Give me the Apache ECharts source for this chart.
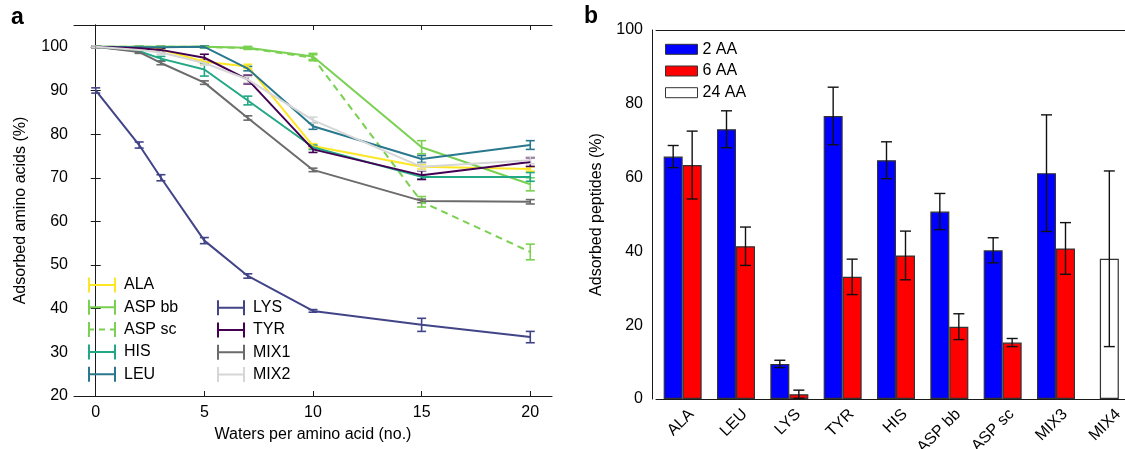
<!DOCTYPE html>
<html><head><meta charset="utf-8">
<script src="https://cdn.jsdelivr.net/npm/echarts@6/dist/echarts.min.js"></script>
<style>html,body{margin:0;padding:0;background:#fff}#c{width:1125px;height:449px}</style>
</head><body><div id="c"></div>
<script>
// ---------- Panel a data ----------
const waters = [0, 2, 3, 5, 7, 10, 15, 20];
const ALA     = [100, 99.6, 99.4, 96.6, 95.5, 77.3, 72.5, 72.0];
const ALA_err = [0.2, 0.2, 0.3, 0.5, 0.5, 0.5, 0.5, 0.5];
const ASPbb     = [100, 100, 100, 100, 99.8, 97.8, 77.0, 68.5];
const ASPbb_err = [0.1, 0.1, 0.1, 0.2, 0.3, 0.7, 1.5, 1.5];
const ASPsc     = [100, 100, 100, 100, 99.7, 97.5, 64.5, 53.0];
const ASPsc_err = [0.1, 0.1, 0.1, 0.2, 0.3, 0.7, 1.2, 1.8];
const HIS     = [100, 99.0, 97.3, 94.8, 87.7, 77.0, 70.2, 70.2];
const HIS_err = [0.2, 0.3, 0.5, 1.5, 1.0, 0.5, 0.5, 1.0];
const LEU     = [100, 99.9, 99.9, 100, 95.0, 81.8, 74.3, 77.5];
const LEU_err = [0.1, 0.2, 0.2, 0.2, 0.5, 0.7, 0.8, 1.0];
const LYS     = [90.0, 77.5, 70.0, 55.6, 47.5, 39.5, 36.3, 33.5];
const LYS_err = [0.6, 0.7, 0.7, 0.7, 0.5, 0.3, 1.5, 1.3];
const TYR     = [100, 99.7, 99.3, 97.5, 92.5, 76.5, 70.6, 73.6];
const TYR_err = [0.2, 0.3, 0.4, 0.8, 1.0, 0.7, 1.0, 1.0];
const MIX1     = [100, 98.8, 96.3, 91.8, 83.7, 71.8, 64.7, 64.5];
const MIX1_err = [0.2, 0.3, 0.4, 0.4, 0.5, 0.4, 0.4, 0.5];
const MIX2     = [100, 99.3, 98.7, 96.3, 92.5, 83.2, 72.5, 74.0];
const MIX2_err = [0.2, 0.3, 0.4, 0.5, 0.7, 0.7, 0.8, 0.8];
const xTicksA = [0, 5, 10, 15, 20];
const yTicksA = [20, 30, 40, 50, 60, 70, 80, 90, 100];

// ---------- Panel b data ----------
const peptideCats = ['ALA', 'LEU', 'LYS', 'TYR', 'HIS', 'ASP bb', 'ASP sc', 'MIX3', 'MIX4'];
const aa2     = [65.7, 73.1, 9.5, 76.7, 64.7, 50.8, 40.3, 61.2, '-'];
const aa2_err = [3.0, 5.0, 1.0, 7.8, 5.0, 4.9, 3.4, 15.8, null];
const aa6     = [63.4, 41.4, 1.3, 33.1, 38.9, 19.6, 15.3, 40.8, '-'];
const aa6_err = [9.2, 5.2, 1.1, 4.8, 6.6, 3.5, 1.1, 7.0, null];
const aa24     = ['-', '-', '-', '-', '-', '-', '-', '-', 38.0];
const aa24_err = [null, null, null, null, null, null, null, null, 23.8];

// ---------- styling ----------
const FONT = '"Liberation Sans", Arial, Helvetica, sans-serif';
const AXC = '#1a1a1a';
const lineSeriesDefs = [
  {name: 'ALA',    v: ALA,   e: ALA_err,   color: '#FDE725', dashed: false},
  {name: 'ASP bb', v: ASPbb, e: ASPbb_err, color: '#7AD151', dashed: false},
  {name: 'ASP sc', v: ASPsc, e: ASPsc_err, color: '#7AD151', dashed: true},
  {name: 'HIS',    v: HIS,   e: HIS_err,   color: '#22A884', dashed: false},
  {name: 'LEU',    v: LEU,   e: LEU_err,   color: '#2A788E', dashed: false},
  {name: 'LYS',    v: LYS,   e: LYS_err,   color: '#414487', dashed: false},
  {name: 'TYR',    v: TYR,   e: TYR_err,   color: '#440154', dashed: false},
  {name: 'MIX1',   v: MIX1,  e: MIX1_err,  color: '#6B6B6B', dashed: false},
  {name: 'MIX2',   v: MIX2,  e: MIX2_err,  color: '#D6D6D6', dashed: false}
];
const ICON_SOLID = 'path://M0,0h2v15h-2z M26,0h2v15h-2z M0,6.5h28v2h-28z';
const ICON_DASH  = 'path://M0,0h2v15h-2z M26,0h2v15h-2z M0,6.5h6v2h-6z M11,6.5h6v2h-6z M22,6.5h6v2h-6z';

function errRenderer(color, cap, width, offset) {
  return function (params, api) {
    const x = api.value(0), lo = api.value(1), hi = api.value(2);
    const p1 = api.coord([x, hi]), p2 = api.coord([x, lo]);
    const cx = p1[0] + offset;
    const st = {stroke: color, lineWidth: width, fill: null};
    return {type: 'group', children: [
      {type: 'line', shape: {x1: cx, y1: p1[1], x2: cx, y2: p2[1]}, style: st},
      {type: 'line', shape: {x1: cx - cap, y1: p1[1], x2: cx + cap, y2: p1[1]}, style: st},
      {type: 'line', shape: {x1: cx - cap, y1: p2[1], x2: cx + cap, y2: p2[1]}, style: st}
    ]};
  };
}

const series = [];
lineSeriesDefs.forEach(function (d) {
  series.push({
    type: 'line', name: d.name, xAxisIndex: 0, yAxisIndex: 0,
    data: waters.map(function (w, i) { return [w, d.v[i]]; }),
    showSymbol: false, symbol: 'none',
    lineStyle: {color: d.color, width: 2, type: d.dashed ? [7, 5] : 'solid'},
    itemStyle: {color: d.color},
    animation: false
  });
  series.push({
    type: 'custom', name: d.name + ' err', xAxisIndex: 0, yAxisIndex: 0,
    data: waters.map(function (w, i) { return [w, d.v[i] - d.e[i], d.v[i] + d.e[i]]; }),
    renderItem: errRenderer(d.color, 4.5, 1.6, 0),
    animation: false, silent: true
  });
});

// Bars
const barBorder = {borderColor: '#333', borderWidth: 1.2};
series.push({type: 'bar', name: '2 AA', xAxisIndex: 2, yAxisIndex: 2, data: aa2, barWidth: 19, barGap: '0%',
  itemStyle: Object.assign({color: '#0000FF'}, barBorder), animation: false});
series.push({type: 'bar', name: '6 AA', xAxisIndex: 2, yAxisIndex: 2, data: aa6, barWidth: 19, barGap: '0%',
  itemStyle: Object.assign({color: '#FF0000'}, barBorder), animation: false});
series.push({type: 'bar', name: '24 AA', xAxisIndex: 4, yAxisIndex: 2, data: aa24, barWidth: 19,
  itemStyle: Object.assign({color: '#FFFFFF'}, barBorder), animation: false});

function barErrData(vals, errs) {
  const out = [];
  vals.forEach(function (v, i) {
    if (typeof v === 'number' && errs[i] != null) out.push([i, Math.max(0, v - errs[i]), v + errs[i]]);
  });
  return out;
}
series.push({type: 'custom', name: '2 AA err', xAxisIndex: 2, yAxisIndex: 2, data: barErrData(aa2, aa2_err),
  renderItem: errRenderer('#111', 5.5, 1.4, -9.5), z: 5, animation: false, silent: true});
series.push({type: 'custom', name: '6 AA err', xAxisIndex: 2, yAxisIndex: 2, data: barErrData(aa6, aa6_err),
  renderItem: errRenderer('#111', 5.5, 1.4, 9.5), z: 5, animation: false, silent: true});
series.push({type: 'custom', name: '24 AA err', xAxisIndex: 2, yAxisIndex: 2, data: barErrData(aa24, aa24_err),
  renderItem: errRenderer('#111', 5.5, 1.4, 0), z: 5, animation: false, silent: true});

const txt = {fontFamily: FONT, fontSize: 16, color: '#000'};
const axLine = {show: true, lineStyle: {color: AXC, width: 1}};

const option = {
  backgroundColor: '#fff',
  animation: false,
  textStyle: {fontFamily: FONT},
  title: [
    {text: 'a', left: 11, top: 6, padding: 0, textStyle: {fontFamily: FONT, fontSize: 23, fontWeight: 'bold', color: '#000'}},
    {text: 'b', left: 584, top: 5, padding: 0, textStyle: {fontFamily: FONT, fontSize: 23, fontWeight: 'bold', color: '#000'}}
  ],
  grid: [
    {left: 74, top: 25, width: 478, height: 371, outerBoundsMode: 'none', containLabel: false},
    {left: 656, top: 30, width: 480, height: 369, outerBoundsMode: 'none', containLabel: false}
  ],
  legend: [
    {orient: 'vertical', left: 88, top: 277, padding: 0, itemWidth: 28, itemHeight: 15, itemGap: 6.3,
      textStyle: Object.assign({}, txt, {padding: [0, 0, 0, 3]}), selectedMode: false,
      data: lineSeriesDefs.slice(0, 5).map(function (d) {
        return {name: d.name, icon: d.dashed ? ICON_DASH : ICON_SOLID, itemStyle: {color: d.color, borderWidth: 0}};
      })},
    {orient: 'vertical', left: 217, top: 299.7, padding: 0, itemWidth: 28, itemHeight: 15, itemGap: 6.3,
      textStyle: Object.assign({}, txt, {padding: [0, 0, 0, 3]}), selectedMode: false,
      data: lineSeriesDefs.slice(5).map(function (d) {
        return {name: d.name, icon: ICON_SOLID, itemStyle: {color: d.color, borderWidth: 0}};
      })},
    {orient: 'vertical', left: 665, top: 41.3, padding: 0, itemWidth: 32, itemHeight: 10, itemGap: 5.7,
      textStyle: txt, selectedMode: false, icon: 'rect',
      data: [
        {name: '2 AA', itemStyle: {color: '#0000FF', borderColor: '#333', borderWidth: 1}},
        {name: '6 AA', itemStyle: {color: '#FF0000', borderColor: '#333', borderWidth: 1}},
        {name: '24 AA', itemStyle: {color: '#FFFFFF', borderColor: '#333', borderWidth: 1}}
      ]}
  ],
  xAxis: [
    {type: 'value', gridIndex: 0, min: -1, max: 21, position: 'bottom',
      axisLine: axLine, splitLine: {show: false},
      axisTick: {inside: true, length: 5, lineStyle: {color: AXC}, customValues: xTicksA},
      axisLabel: Object.assign({}, txt, {margin: 9, customValues: xTicksA}),
      name: 'Waters per amino acid (no.)', nameLocation: 'middle', nameGap: 31, nameTextStyle: txt},
    {type: 'value', gridIndex: 0, min: -1, max: 21, position: 'top',
      axisLine: axLine, splitLine: {show: false},
      axisTick: {inside: true, length: 5, lineStyle: {color: AXC}, customValues: xTicksA},
      axisLabel: {show: false}},
    {type: 'category', gridIndex: 1, data: peptideCats, position: 'bottom',
      axisLine: axLine, splitLine: {show: false},
      axisTick: {inside: true, length: 5, alignWithLabel: true, lineStyle: {color: AXC}},
      axisLabel: Object.assign({}, txt, {rotate: 45, margin: 4, verticalAlign: 'top', lineHeight: 25, interval: 0})},
    {type: 'category', gridIndex: 1, data: peptideCats, position: 'top',
      axisLine: axLine, splitLine: {show: false},
      axisTick: {inside: true, length: 5, alignWithLabel: true, lineStyle: {color: AXC}},
      axisLabel: {show: false}},
    {type: 'category', gridIndex: 1, data: peptideCats, position: 'bottom', show: false}
  ],
  yAxis: [
    {type: 'value', gridIndex: 0, min: 20, max: 105, position: 'left',
      axisLine: axLine, splitLine: {show: false},
      axisTick: {inside: true, length: 5, lineStyle: {color: AXC}, customValues: yTicksA},
      axisLabel: Object.assign({}, txt, {margin: 6, customValues: yTicksA}),
      name: 'Adsorbed amino acids (%)', nameLocation: 'middle', nameGap: 45, nameTextStyle: txt},
    {type: 'value', gridIndex: 0, min: 20, max: 105, position: 'right',
      axisLine: axLine, splitLine: {show: false},
      axisTick: {inside: true, length: 5, lineStyle: {color: AXC}, customValues: yTicksA},
      axisLabel: {show: false}},
    {type: 'value', gridIndex: 1, min: 0, max: 100, interval: 20, position: 'left', offset: 4,
      axisLine: axLine, splitLine: {show: false},
      axisTick: {inside: true, length: 5, lineStyle: {color: AXC}},
      axisLabel: Object.assign({}, txt, {margin: 9}),
      name: 'Adsorbed peptides (%)', nameLocation: 'middle', nameGap: 47, nameTextStyle: txt}
  ],
  series: series
};

const chart = echarts.init(document.getElementById('c'), null, {renderer: 'canvas'});
chart.setOption(option);
</script>
</body></html>
